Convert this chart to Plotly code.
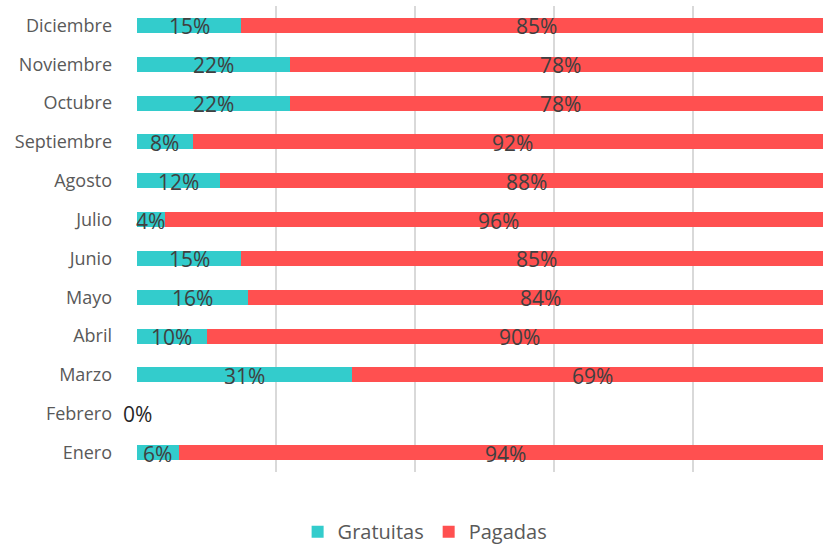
import plotly.graph_objects as go

meses = ["Enero", "Febrero", "Marzo", "Abril", "Mayo", "Junio", "Julio",
         "Agosto", "Septiembre", "Octubre", "Noviembre", "Diciembre"]
gratuitas = [0.06, 0.0, 0.31, 0.10, 0.16, 0.15, 0.04, 0.12, 0.08, 0.22, 0.22, 0.15]
pagadas = [0.94, 0.0, 0.69, 0.90, 0.84, 0.85, 0.96, 0.88, 0.92, 0.78, 0.78, 0.85]

C_GRAT = "#33CCCC"
C_PAG = "#FF5050"
TXT = "#404040"
FONT = "Open Sans"

fig = go.Figure()
fig.add_trace(go.Bar(y=meses, x=gratuitas, orientation="h", name="Gratuitas",
                     marker=dict(color=C_GRAT, line=dict(width=0)), width=0.39))
fig.add_trace(go.Bar(y=meses, x=pagadas, orientation="h", name="Pagadas",
                     marker=dict(color=C_PAG, line=dict(width=0)), width=0.39))

# labels
for m, g, p in zip(meses, gratuitas, pagadas):
    if g + p == 0:
        fig.add_annotation(x=0, y=m, text="0%", showarrow=False, yshift=0,
                           font=dict(family=FONT, size=21, color="#262626"))
        continue
    fig.add_annotation(x=g / 2, y=m, text=f"{round(g*100)}%", showarrow=False, yshift=-1,
                       font=dict(family=FONT, size=21, color=TXT))
    fig.add_annotation(x=g + p / 2, y=m, text=f"{round(p*100)}%", showarrow=False, yshift=-1,
                       font=dict(family=FONT, size=21, color=TXT))

fig.update_layout(
    barmode="stack",
    width=823, height=547,
    margin=dict(l=137, r=0, t=6, b=75, autoexpand=False),
    plot_bgcolor="white", paper_bgcolor="white",
    font=dict(family=FONT, color="#595959"),
    legend=dict(orientation="h", x=0.42, xanchor="center", y=-0.128, yanchor="middle",
                font=dict(size=20, color="#595959"), traceorder="normal",
                itemwidth=30),
    xaxis=dict(range=[0, 0.987], tickvals=[0, 0.2, 0.4, 0.6, 0.8, 1.0],
               showticklabels=False, showgrid=True, gridcolor="#D9D9D9", gridwidth=2,
               zeroline=False, showline=False, fixedrange=True, automargin=False),
    yaxis=dict(categoryorder="array", categoryarray=meses,
               tickfont=dict(size=18, color="#595959"), ticks="",
               ticklabelstandoff=24, showgrid=False, zeroline=False, showline=False,
               range=[-0.5, 11.5], automargin=False, fixedrange=True),
    showlegend=True,
)

fig.write_html("out.html", config={"displayModeBar": False},
               post_script="document.body.style.margin='0';document.body.style.overflow='hidden';")
